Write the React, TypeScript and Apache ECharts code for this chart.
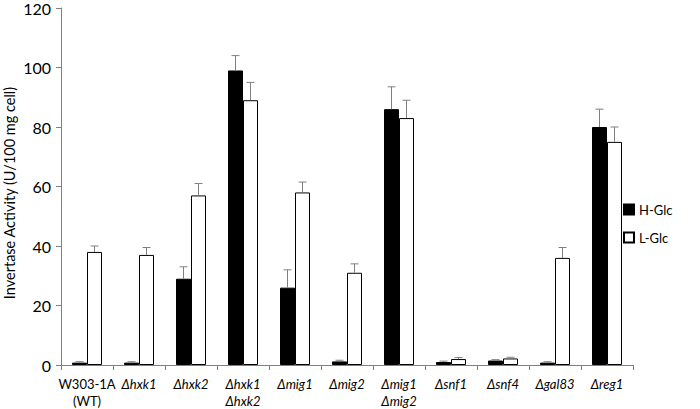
import React, { useEffect, useRef } from "react";
import * as echarts from "echarts";

const categories = ["W303-1A\n(WT)", "Δhxk1", "Δhxk2", "Δhxk1\nΔhxk2", "Δmig1", "Δmig2", "Δmig1\nΔmig2", "Δsnf1", "Δsnf4", "Δgal83", "Δreg1"];
const hGlc = [0.8, 0.8, 29, 99, 26, 1.2, 86, 1, 1.5, 0.8, 80];
const hGlcErr = [0.3, 0.3, 4, 5, 6, 0.4, 7.5, 0.3, 0.3, 0.3, 6];
const lGlc = [38, 37, 57, 89, 58, 31, 83, 2, 2.2, 36, 75];
const lGlcErr = [2, 2.5, 4, 6, 3.5, 3, 6, 0.5, 0.4, 3.5, 5];
const yTicks = [0, 20, 40, 60, 80, 100, 120];
const yTitle = "Invertase Activity (U/100 mg cell)";

const FONT = "Lato, 'Open Sans', sans-serif";
const BAR_W = 15;

function errSeries(name: string, vals: number[], errs: number[], offset: number) {
  return {
    type: "custom",
    name: name + "-err",
    silent: true,
    z: 5,
    data: vals.map((v, i) => [i, v, v + errs[i]]),
    renderItem: (params: any, api: any) => {
      const i = api.value(0);
      const base = api.coord([i, api.value(1)]);
      const top = api.coord([i, api.value(2)]);
      const x = base[0] + offset;
      return {
        type: "group",
        children: [
          { type: "line", shape: { x1: x, y1: base[1], x2: x, y2: top[1] }, style: { stroke: "#808080", lineWidth: 1 } },
          { type: "line", shape: { x1: x - 4, y1: top[1], x2: x + 4, y2: top[1] }, style: { stroke: "#808080", lineWidth: 1 } },
        ],
      };
    },
  };
}

export default function App() {
  const ref = useRef<HTMLDivElement>(null);
  useEffect(() => {
    if (!ref.current) return;
    const chart = echarts.init(ref.current, null, { renderer: "svg" });
    chart.setOption({
      animation: false,
      backgroundColor: "#ffffff",
      textStyle: { fontFamily: FONT },
      grid: { left: 61, right: 67, top: 6, bottom: 41 },
      graphic: [
        {
          type: "text",
          x: 9,
          y: 193,
          rotation: Math.PI / 2,
          style: {
            text: yTitle,
            fontFamily: FONT,
            fontSize: 14.5,
            fill: "#000",
            align: "center",
            verticalAlign: "middle",
          },
        },
      ],
      legend: {
        orient: "vertical",
        left: 618,
        top: 198,
        itemWidth: 10,
        itemHeight: 10,
        itemGap: 15,
        data: [
          { name: "H-Glc", icon: "rect" },
          { name: "L-Glc", icon: "rect" },
        ],
        textStyle: { fontFamily: FONT, fontSize: 13, color: "#000" },
      },
      xAxis: {
        type: "category",
        data: categories.map((c, i) =>
          i === 0 ? { value: c, textStyle: { fontStyle: "normal" } } : c
        ),
        axisLine: { lineStyle: { color: "#808080", width: 1 } },
        axisTick: { show: true, alignWithLabel: false, length: 5, lineStyle: { color: "#808080" } },
        axisLabel: {
          interval: 0,
          margin: 10,
          color: "#000",
          fontFamily: FONT,
          fontSize: 13,
          lineHeight: 17,
          fontStyle: "italic",
        },
      },
      yAxis: {
        type: "value",
        min: 0,
        max: 120,
        interval: 20,
        splitLine: { show: false },
        axisLine: { show: true, lineStyle: { color: "#808080", width: 1 } },
        axisTick: { show: true, length: 5, lineStyle: { color: "#808080" } },
        axisLabel: {
          color: "#000",
          fontFamily: FONT,
          fontSize: 16,
          margin: 10,
          formatter: (v: number) => (yTicks.includes(v) ? String(v) : ""),
        },
      },
      series: [
        {
          name: "H-Glc",
          type: "bar",
          data: hGlc,
          barWidth: BAR_W,
          barGap: "0%",
          itemStyle: { color: "#000000", borderColor: "#000", borderWidth: 1 },
        },
        {
          name: "L-Glc",
          type: "bar",
          data: lGlc,
          barWidth: BAR_W,
          barGap: "0%",
          itemStyle: { color: "#ffffff", borderColor: "#000", borderWidth: 1 },
        },
        errSeries("H-Glc", hGlc, hGlcErr, -BAR_W / 2),
        errSeries("L-Glc", lGlc, lGlcErr, BAR_W / 2),
      ],
    });
    return () => chart.dispose();
  }, []);
  return <div ref={ref} style={{ position: "absolute", left: 0, top: 0, width: 700, height: 409 }} />;
}
